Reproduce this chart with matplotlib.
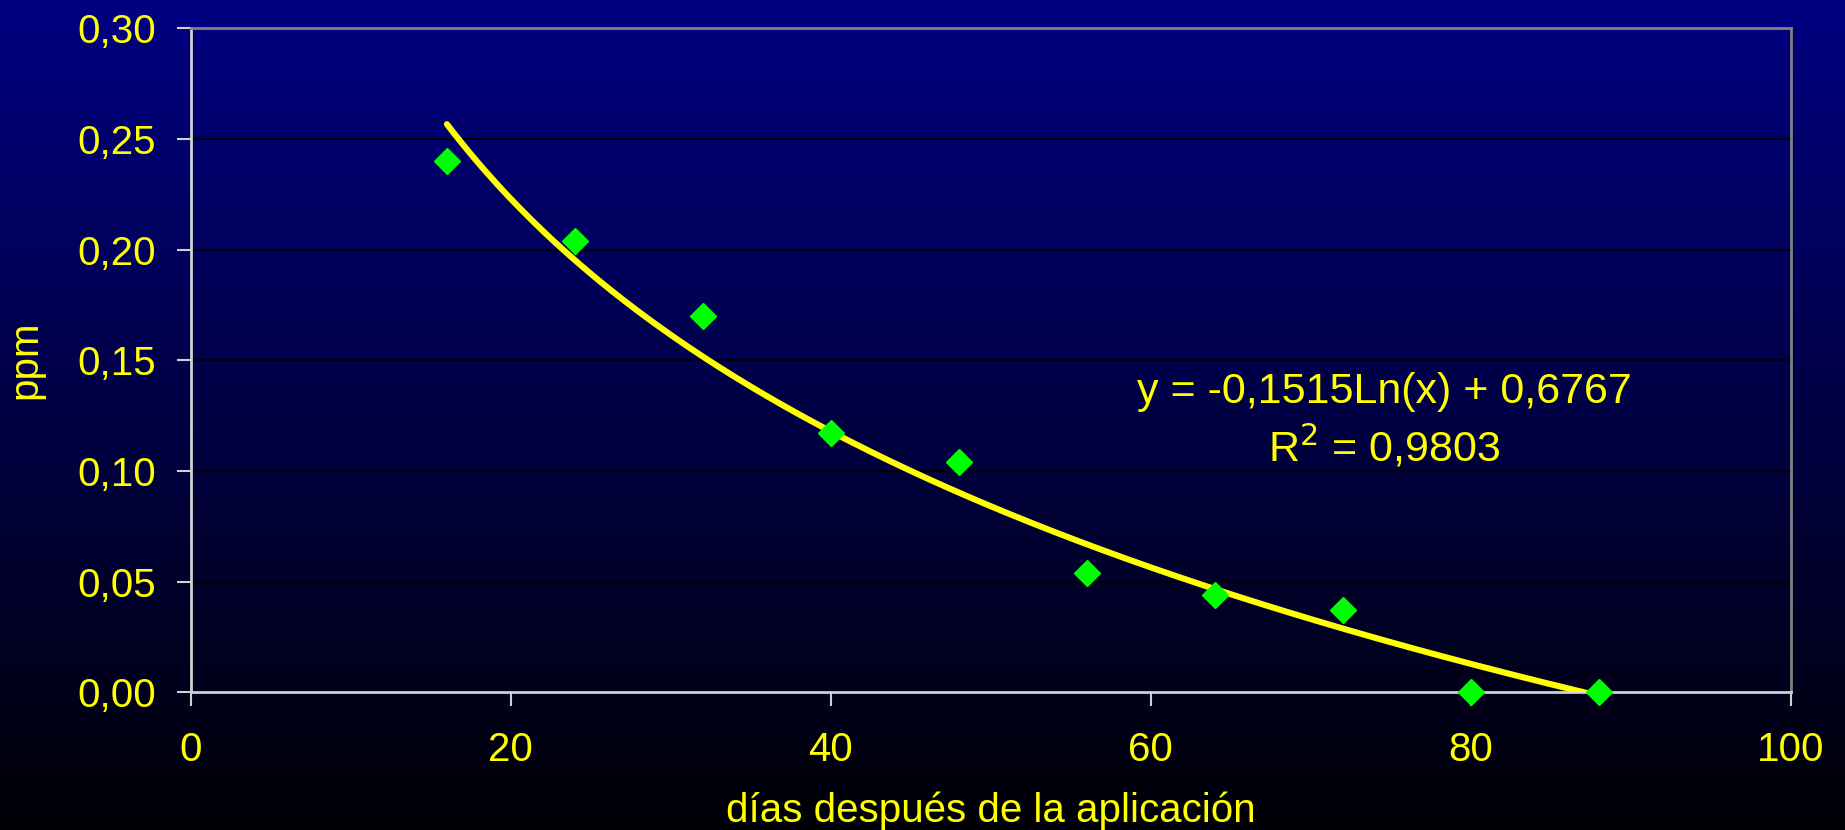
import numpy as np
import matplotlib
matplotlib.use('Agg')
import matplotlib.pyplot as plt
from matplotlib.colors import LinearSegmentedColormap

matplotlib.rcParams.update({'font.size': 29, 'font.family': ['Liberation Sans', 'DejaVu Sans']})

# measured points
dias = [16, 24, 32, 40, 48, 56, 64, 72, 80, 88]
ppm = [0.240, 0.204, 0.170, 0.117, 0.104, 0.054, 0.044, 0.037, 0.0, 0.0]

# logarithmic trend line as printed on the chart
coef_a = -0.1515
coef_b = 0.6767
r2 = '0,9803'

x_ticks = [0, 20, 40, 60, 80, 100]
y_ticks = [0.0, 0.05, 0.10, 0.15, 0.20, 0.25, 0.30]
y_labels = ['0,00', '0,05', '0,10', '0,15', '0,20', '0,25', '0,30']

yellow = '#FFFF00'

fig = plt.figure(figsize=(18.45, 8.3), dpi=100)

# background gradient navy -> black
bg = fig.add_axes([0, 0, 1, 1], zorder=-1)
cmap = LinearSegmentedColormap.from_list('bg', ['#000082', '#000006'])
bg.imshow(np.linspace(0, 1, 256).reshape(-1, 1), aspect='auto', cmap=cmap,
          extent=[0, 1, 0, 1])
bg.axis('off')

ax = fig.add_axes([0.1035, 0.166, 0.867, 0.8])
ax.set_facecolor('none')

xs = np.linspace(dias[0], dias[-1], 300)
ax.plot(xs, coef_a * np.log(xs) + coef_b, color=yellow, lw=4.4, zorder=3,
        solid_capstyle='round')
ax.plot(dias, ppm, linestyle='none', marker='D', markersize=13,
        color='#00FF00', zorder=4, clip_on=False)

ax.set_xlim(0, 100)
ax.set_ylim(0, 0.30)
ax.set_xticks(x_ticks)
ax.set_yticks(y_ticks)
ax.set_yticklabels(y_labels)

ax.yaxis.grid(True, color='black', lw=1.3)
ax.set_axisbelow(True)

for side in ['top', 'right']:
    ax.spines[side].set_color('#808080')
    ax.spines[side].set_linewidth(2)
for side in ['left', 'bottom']:
    ax.spines[side].set_color('#D0D0D0')
    ax.spines[side].set_linewidth(2)

ax.tick_params(axis='x', direction='out', length=10, width=1.5, color='#D0D0D0',
               labelcolor=yellow, pad=18)
ax.tick_params(axis='y', direction='out', length=10, width=1.5, color='#D0D0D0',
               labelcolor=yellow, pad=15)

ax.set_xlabel('días después de la aplicación', color=yellow, labelpad=16)
ax.set_ylabel('ppm', color=yellow, labelpad=24)

ax.text(74.6, 0.1355, 'y = -0,1515Ln(x) + 0,6767', color=yellow, fontsize=31,
        ha='center', va='center')
ax.text(74.6, 0.1107, 'R$^2$ = ' + r2, color=yellow, fontsize=31,
        ha='center', va='center')

fig.savefig('out.png', dpi=100)
